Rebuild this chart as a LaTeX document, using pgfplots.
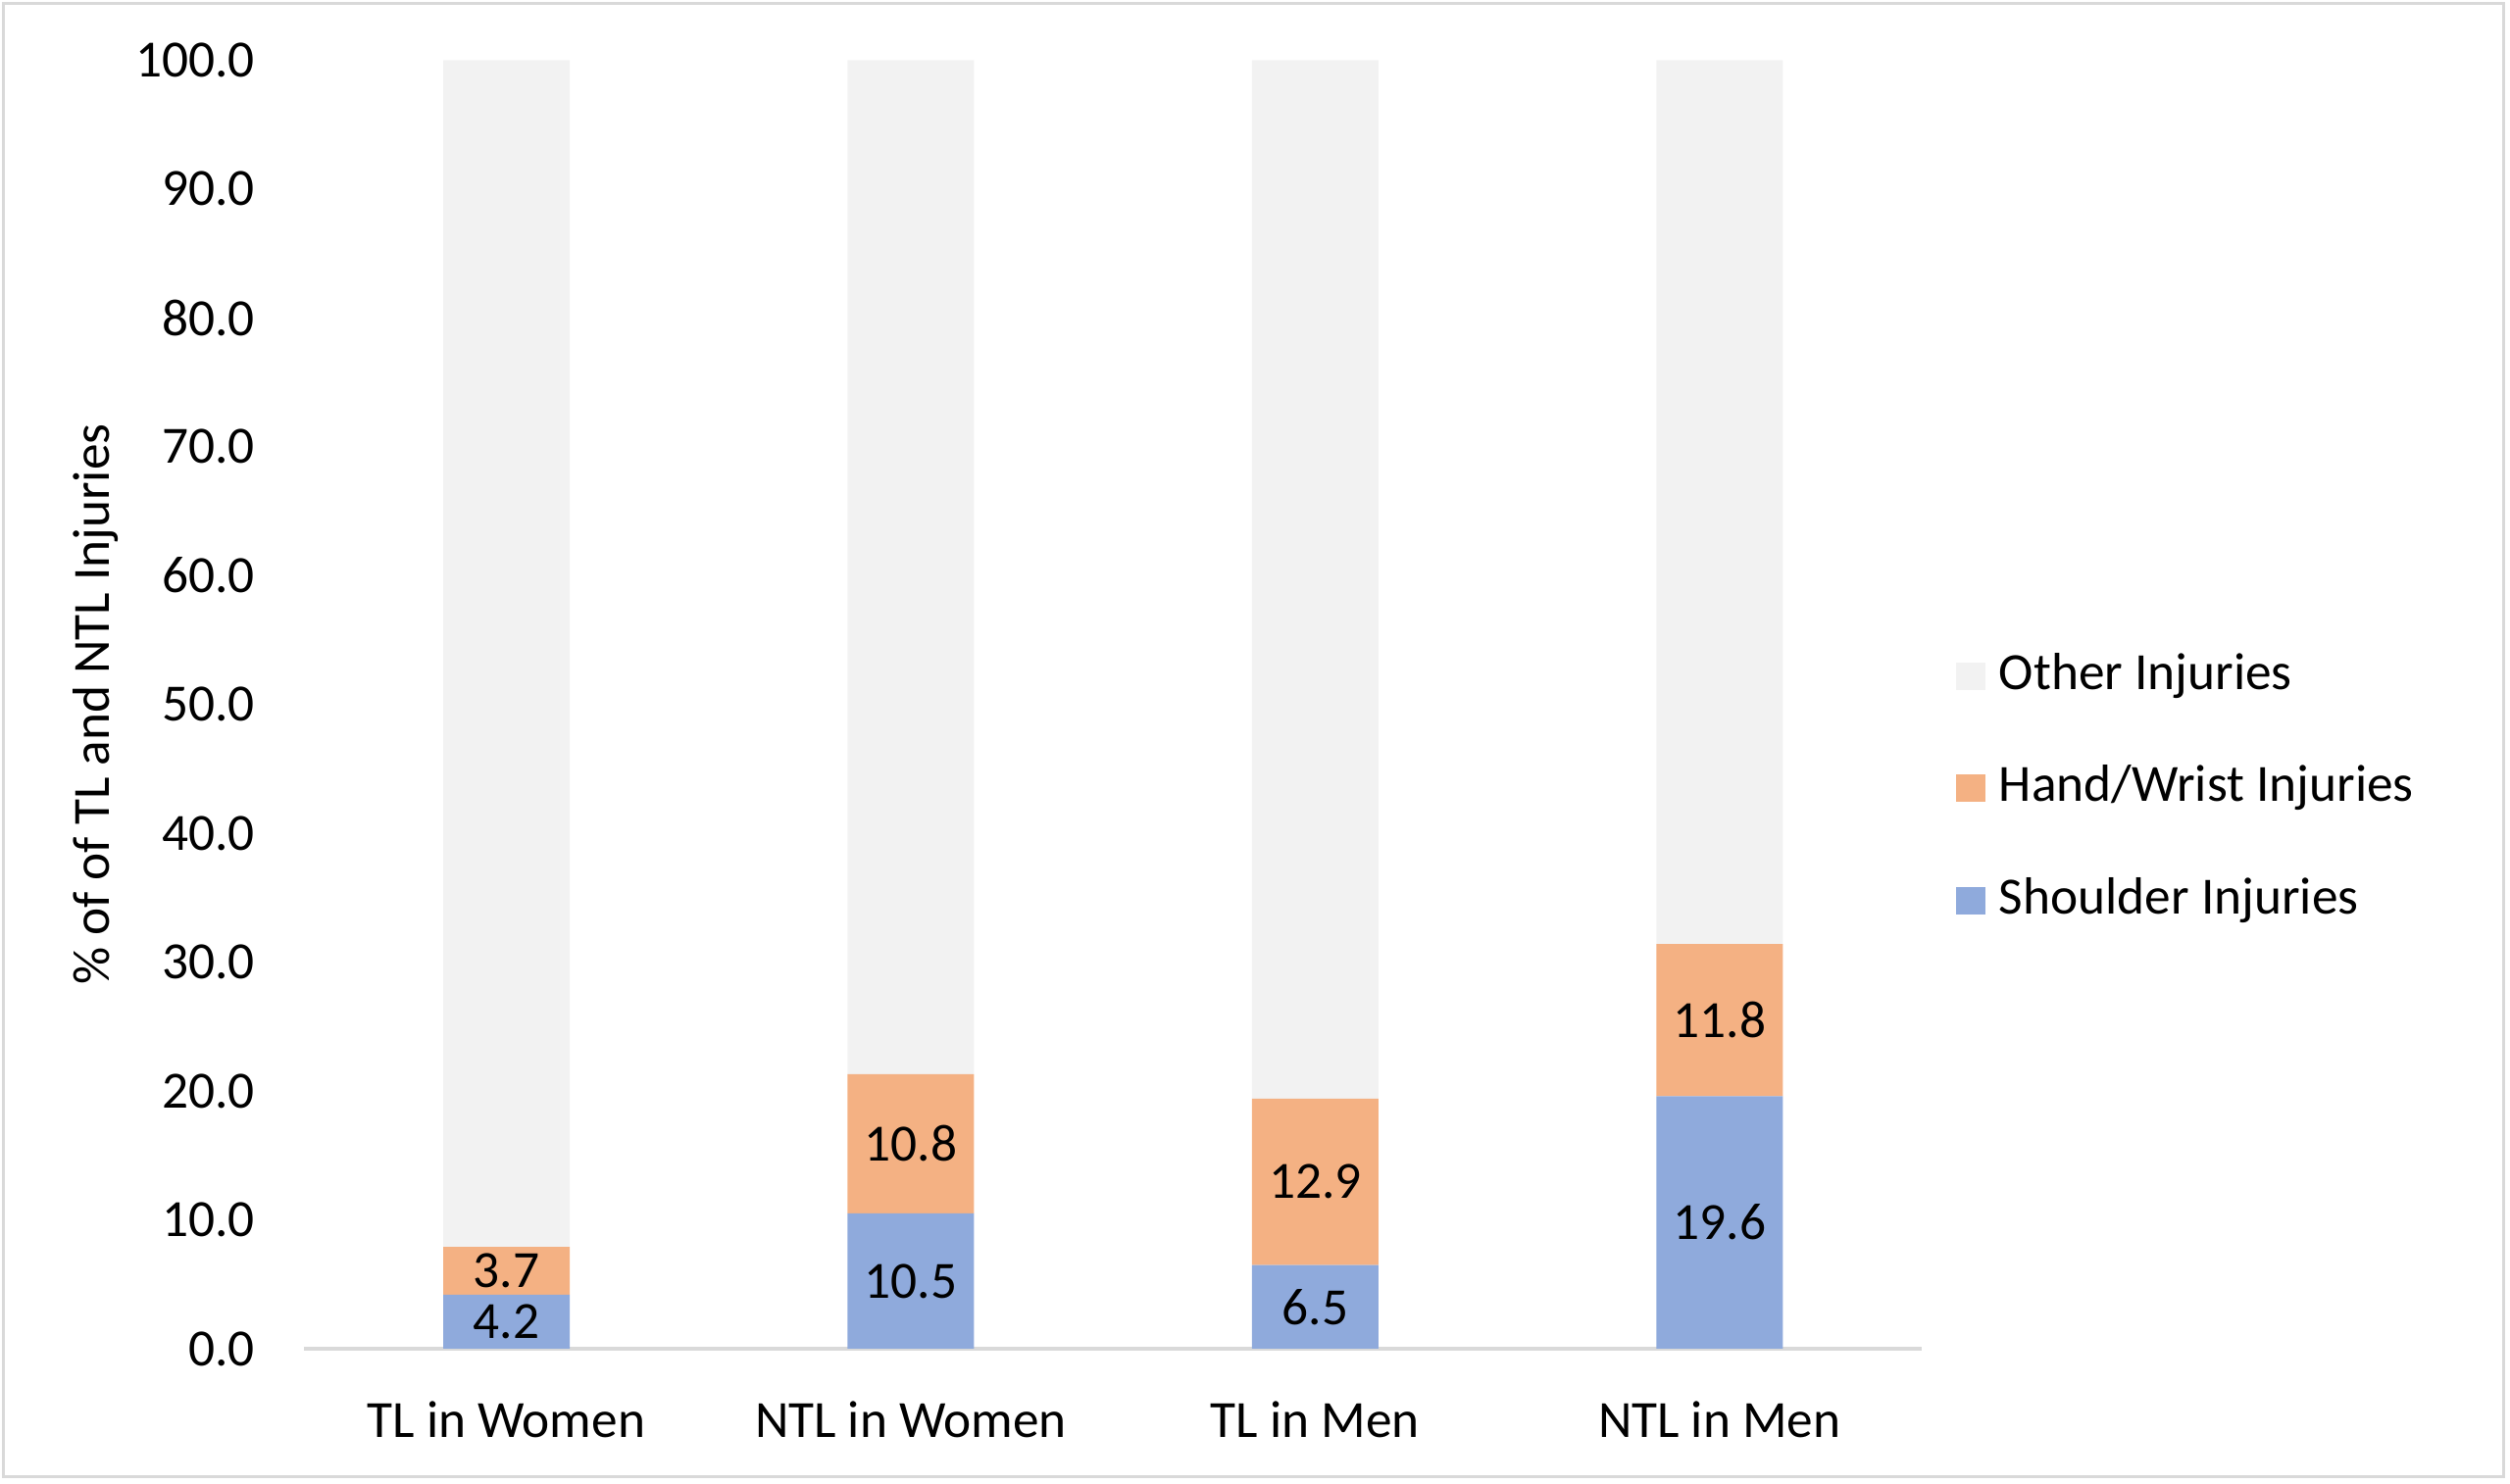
\documentclass[border=0pt]{standalone}
\usepackage{fontspec}
\setmainfont{Carlito}
\usepackage{pgfplots}
\pgfplotsset{compat=1.18}
\definecolor{shoulder}{HTML}{8FAADC}
\definecolor{hand}{HTML}{F4B183}
\definecolor{other}{HTML}{F2F2F2}
\definecolor{axisgray}{HTML}{D9D9D9}
\begin{document}
\fontsize{16}{19}\selectfont
\begin{tikzpicture}
\useasboundingbox (0,0) rectangle (768pt,454pt);
\draw[axisgray, line width=0.8pt] (1pt,2pt) rectangle (766pt,453pt);
\begin{axis}[
  at={(93.1pt,41.2pt)}, anchor=south west,
  scale only axis, width=494.9pt, height=394.4pt,
  ybar stacked, bar width=38.7pt,
  xmin=-0.5, xmax=3.5, ymin=0, ymax=100,
  xtick={0,1,2,3},
  xticklabels={TL in Women, NTL in Women, TL in Men, NTL in Men},
  ytick={0,10,...,100},
  /pgf/number format/assume math mode=true,
  yticklabel={\pgfmathprintnumber[fixed,fixed zerofill,precision=1]{\tick}},
  axis lines*=left,
  y axis line style={draw=none},
  x axis line style={draw=axisgray, line width=1pt, -},
  tick style={draw=none},
  major tick length=0pt,
  yticklabel style={anchor=east, inner sep=0pt, xshift=-14.9pt},
  xticklabel style={anchor=north, inner sep=0pt, yshift=-15.9pt},
  ylabel={\% of of TL and NTL Injuries},
  ylabel style={at={(axis description cs:-0.1287,0.5)}, anchor=center},
  reverse legend,
  legend style={draw=none, fill=none, at={(1.0212,0.5421)}, anchor=north west,
    inner sep=0pt, outer sep=0pt, row sep=18.35pt,
    nodes={inner sep=0pt, text height=12pt, text depth=4pt},
    /tikz/every odd column/.append style={column sep=4.2pt}},
  legend cell align=left,
  visualization depends on=rawy\as\rawy,
]
\addplot[fill=shoulder, draw=none,
  legend image code/.code={\fill[shoulder] (0pt,-4.2pt) rectangle (9pt,4.3pt);},
  nodes near coords={\pgfmathprintnumber[fixed,fixed zerofill,precision=1]{\rawy}},
  every node near coord/.append style={anchor=center, inner sep=0pt, text=black}]
  coordinates {(0,4.2) (1,10.5) (2,6.5) (3,19.6)};
\addlegendentry{Shoulder Injuries}
\addplot[fill=hand, draw=none,
  legend image code/.code={\fill[hand] (0pt,-4.2pt) rectangle (9pt,4.3pt);},
  nodes near coords={\pgfmathprintnumber[fixed,fixed zerofill,precision=1]{\rawy}},
  every node near coord/.append style={anchor=center, inner sep=0pt, text=black}]
  coordinates {(0,3.7) (1,10.8) (2,12.9) (3,11.8)};
\addlegendentry{Hand/Wrist Injuries}
\addplot[fill=other, draw=none,
  legend image code/.code={\fill[other] (0pt,-4.2pt) rectangle (9pt,4.3pt);}]
  coordinates {(0,92.1) (1,78.7) (2,80.6) (3,68.6)};
\addlegendentry{Other Injuries}
\end{axis}
\end{tikzpicture}
\end{document}
